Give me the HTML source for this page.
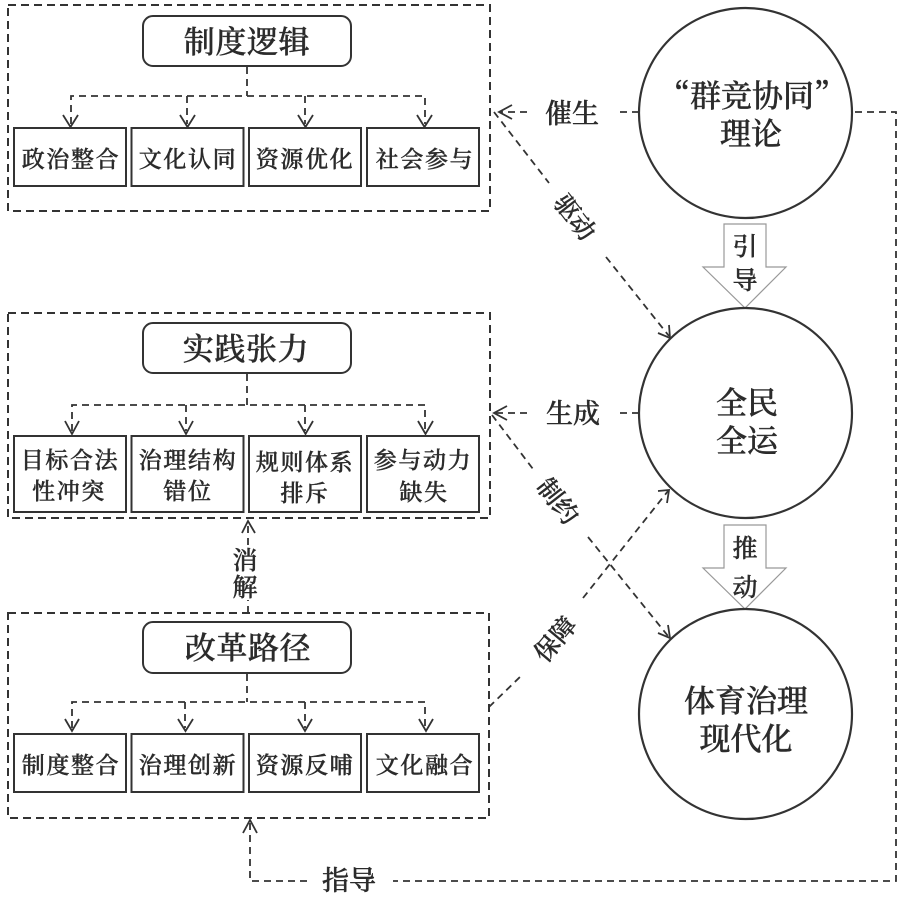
<!DOCTYPE html>
<html><head><meta charset="utf-8">
<style>
html,body{margin:0;padding:0;background:#fff}
svg{display:block}
text{font-family:"Liberation Serif","Noto Serif CJK SC",serif;fill:#2b2b2b;stroke:#2b2b2b;stroke-width:.45;text-anchor:middle;font-weight:500}
.t{font-size:31px;letter-spacing:.6px}
.b{font-size:23px;letter-spacing:1.6px}
.c{font-size:31px}
.q{font-family:"Noto Serif CJK SC",serif}
.l{font-size:27px}
.s{font-size:25px}
.g{fill:none;stroke:#333;stroke-width:2;stroke-dasharray:8 5}
.d{fill:none;stroke:#333;stroke-width:1.8;stroke-dasharray:7 5}
.a{fill:none;stroke:#333;stroke-width:1.8}
.r{fill:#fff;stroke:#333;stroke-width:2}
.o{fill:#fff;stroke:#333;stroke-width:2.2}
.w{fill:#fff;stroke:#999;stroke-width:1.2}
</style></head><body>
<svg width="903" height="903" viewBox="0 0 903 903" xmlns="http://www.w3.org/2000/svg">
<rect width="903" height="903" fill="#fff"/>

<!-- group frames -->
<rect class="g" x="8" y="5" width="482" height="206"/>
<rect class="g" x="8" y="313" width="482" height="205"/>
<rect class="g" x="8" y="613" width="481" height="205"/>

<!-- title boxes -->
<rect class="r" x="143" y="16" width="208" height="50" rx="10"/>
<rect class="r" x="143" y="323" width="208" height="50" rx="10"/>
<rect class="r" x="143" y="622" width="208" height="51" rx="10"/>
<text class="t" x="247" y="53">制度逻辑</text>
<text class="t" x="246" y="360">实践张力</text>
<text class="t" x="248" y="659">改革路径</text>

<!-- group 1 connectors -->
<path class="d" d="M247 67V96M71 124V96H425V124M187 96V124M305 96V124"/>
<path class="a" d="M63 115L70.500 127L78 115M180 115L187.500 127L195 115M298 115L305.500 127L313 115M417 115L424.500 127L432 115"/>
<!-- group 2 connectors -->
<path class="d" d="M247 374V405M72 431V405H425V431M186 405V431M305 405V431"/>
<path class="a" d="M65 421L72 434L79 421M179 421L186 434L193 421M298 421L305.500 434L313 421M418 421L425.500 434L433 421"/>
<!-- group 3 connectors -->
<path class="d" d="M247 674V702M72 728V702H425V728M185 702V728M305 702V728"/>
<path class="a" d="M65 719L72 731L79 719M178 719L185.500 731L193 719M298 719L305 731L312 719M419 719L426 731L433 719"/>

<!-- leaf boxes -->
<g>
<rect class="r" x="14" y="128" width="112" height="58"/>
<rect class="r" x="131.500" y="128" width="112" height="58"/>
<rect class="r" x="249" y="128" width="112" height="58"/>
<rect class="r" x="367" y="128" width="112" height="58"/>
<rect class="r" x="14" y="436" width="112" height="76"/>
<rect class="r" x="131.500" y="436" width="112" height="76"/>
<rect class="r" x="249" y="436" width="112" height="76"/>
<rect class="r" x="367" y="436" width="112" height="76"/>
<rect class="r" x="14" y="734" width="112" height="58"/>
<rect class="r" x="131.500" y="734" width="112" height="58"/>
<rect class="r" x="249" y="734" width="112" height="58"/>
<rect class="r" x="367" y="734" width="112" height="58"/>
</g>
<text class="b" x="71" y="167">政治整合</text>
<text class="b" x="188" y="167">文化认同</text>
<text class="b" x="305" y="167">资源优化</text>
<text class="b" x="425" y="167">社会参与</text>
<text class="b" x="70" y="468">目标合法</text>
<text class="b" x="69" y="499">性冲突</text>
<text class="b" x="188" y="468">治理结构</text>
<text class="b" x="188" y="499">错位</text>
<text class="b" x="305" y="470">规则体系</text>
<text class="b" x="305" y="501">排斥</text>
<text class="b" x="423" y="468">参与动力</text>
<text class="b" x="424" y="500">缺失</text>
<text class="b" x="71" y="773">制度整合</text>
<text class="b" x="188" y="773">治理创新</text>
<text class="b" x="305" y="773">资源反哺</text>
<text class="b" x="425" y="773">文化融合</text>

<!-- block arrows -->
<path class="w" d="M724 224H766V267H786L745 308L703 267H724Z"/>
<path class="w" d="M724 525H766V568H786L745 609L703 568H724Z"/>
<text class="s" x="745" y="255">引</text>
<text class="s" x="745" y="289">导</text>
<text class="s" x="745" y="557">推</text>
<text class="s" x="745" y="596">动</text>

<!-- circles -->
<ellipse class="o" cx="745.500" cy="113" rx="106.500" ry="105"/>
<ellipse class="o" cx="745.500" cy="413" rx="106.500" ry="105"/>
<ellipse class="o" cx="745.500" cy="714" rx="106.500" ry="105"/>
<text class="c q" x="752" y="107">“群竞协同”</text>
<text class="c" x="751" y="145">理论</text>
<text class="c" x="747" y="414">全民</text>
<text class="c" x="747" y="452">全运</text>
<text class="c" x="746" y="712">体育治理</text>
<text class="c" x="746" y="750">现代化</text>

<!-- relation connectors -->
<path class="d" d="M639 112H620M527 112H500"/>
<path class="a" d="M512 105L499 112L512 119"/>
<text class="l" x="572" y="123">催生</text>

<path class="d" d="M494 112L549 183M606 257L669 336"/>
<path class="a" d="M658 333L670 338L669 325"/>
<g transform="translate(575 217) rotate(52)"><text class="s" x="0" y="9">驱动</text></g>

<path class="d" d="M639 413H620M527 413H496"/>
<path class="a" d="M507 406L494 413L507 420"/>
<text class="l" x="573" y="423">生成</text>

<path class="d" d="M492 415L533 469M588 537L668 636"/>
<path class="a" d="M658 633L670 638L668 625"/>
<g transform="translate(558 501) rotate(52)"><text class="s" x="0" y="9">制约</text></g>

<path class="d" d="M489 707L522 675M583 598L668 491"/>
<path class="a" d="M658 491L669 490L667 503"/>
<g transform="translate(555 639) rotate(-50)"><text class="s" x="0" y="9">保障</text></g>

<path class="d" d="M248 613V600M248 545V522"/>
<path class="a" d="M242 533L248 521L255 533"/>
<text class="s" x="245" y="569">消</text>
<text class="s" x="245" y="596">解</text>

<path class="d" d="M855 112H896V881H393M307 881H250V823"/>
<path class="a" d="M243 833L250 820L257 833"/>
<text class="l" x="349" y="890">指导</text>
</svg>
</body></html>
